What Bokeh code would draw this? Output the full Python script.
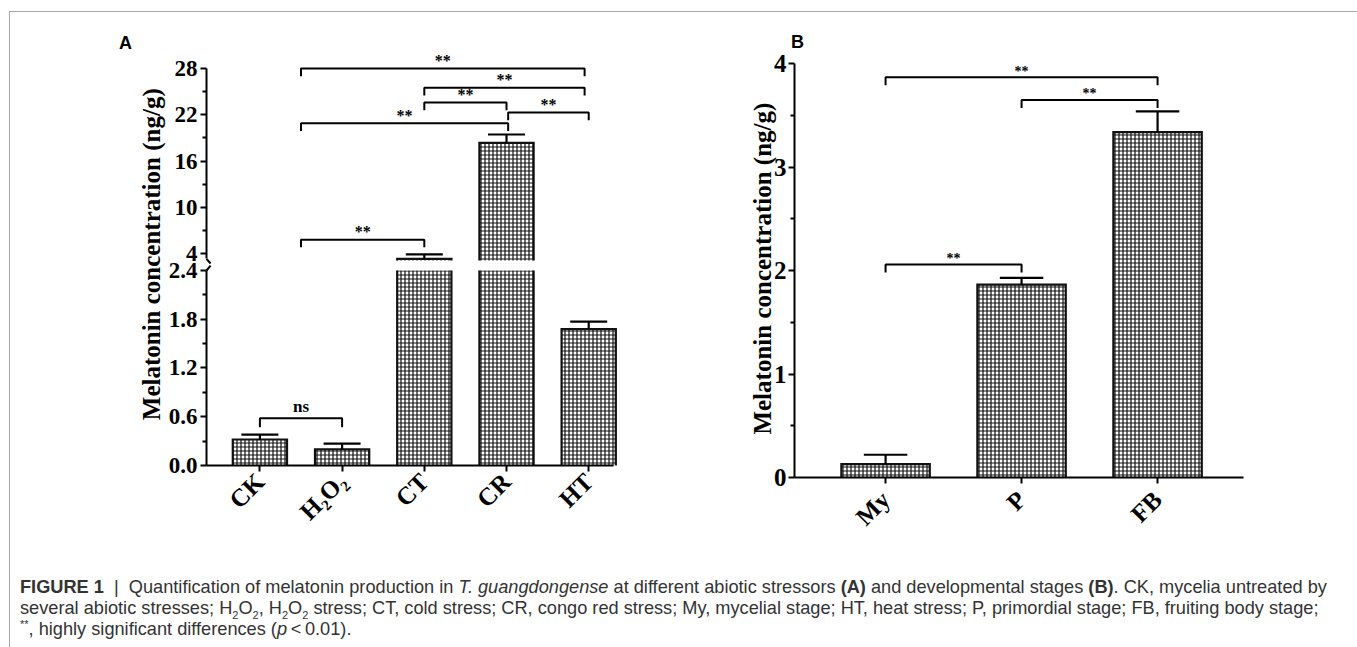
import math
from bokeh.plotting import figure
from bokeh.models import Range1d, FixedTicker, PrintfTickFormatter, Div, LinearAxis
from bokeh.layouts import row, column
from bokeh.embed import file_html
from bokeh.resources import INLINE
from bokeh.core.properties import value

# ---------------- data ----------------
# Panel A: abiotic stressors
cats_a = ["CK", "H\u2082O\u2082", "CT", "CR", "HT"]
mean_a = [0.32, 0.20, 3.30, 18.36, 1.68]
err_a = [0.06, 0.07, 0.58, 1.08, 0.09]
ticks_a_upper = [4, 10, 16, 22, 28]
ticks_a_lower = [0.0, 0.6, 1.2, 1.8, 2.4]
break_a = (2.4, 3.1)          # y axis break: lower segment ends / upper segment starts

# significance brackets of panel A (x in category index, y in ng/g)
brA_x0 = [0.5, 2.0, 2.0, 3.02, 0.5, 0.5]
brA_x1 = [3.95, 3.95, 3.0, 4.0, 3.02, 2.0]
brA_y = [28.0, 25.5, 23.6, 22.3, 20.9, 5.8]
brA_lab = ["**", "**", "**", "**", "**", "**"]
nsA_x0 = [0.0]
nsA_x1 = [1.0]
nsA_y = [0.58]
nsA_lab = ["ns"]

# Panel B: developmental stages
cats_b = ["My", "P", "FB"]
mean_b = [0.13, 1.865, 3.34]
err_b = [0.09, 0.065, 0.20]
ticks_b = [0, 1, 2, 3, 4]
brB_x0 = [0.0, 1.0, 0.0]
brB_x1 = [2.0, 2.0, 1.0]
brB_y = [3.87, 3.65, 2.06]
brB_lab = ["**", "**", "**"]

Y_TITLE = "Melatonin concentration (ng/g)"
SERIF = "Liberation Serif"
SANS = "Liberation Sans"
INK = "#111111"


def minor_of(t):
    return [(a + b) / 2 for a, b in zip(t[:-1], t[1:])]


def base_fig(w, h, xr, yr):
    p = figure(width=w, height=h, x_range=xr, y_range=yr,
               output_backend="svg", toolbar_location=None, min_border=0)
    p.grid.visible = False
    p.outline_line_color = None
    p.background_fill_color = "white"
    p.border_fill_color = "white"
    return p


def style_axis(ax, size, standoff=3):
    ax.axis_line_width = 2
    ax.axis_line_color = "black"
    ax.major_tick_line_width = 2
    ax.minor_tick_line_width = 2
    ax.major_tick_line_color = "black"
    ax.minor_tick_line_color = "black"
    ax.major_tick_in = 0
    ax.major_tick_out = 6
    ax.minor_tick_in = 0
    ax.minor_tick_out = 4
    ax.major_label_text_font = SERIF
    ax.major_label_text_font_style = "bold"
    ax.major_label_text_font_size = size
    ax.major_label_text_color = "black"
    ax.major_label_standoff = standoff


HATCH = dict(fill_color="#ffffff", line_color=None, hatch_pattern="cross",
             hatch_color=INK, hatch_scale=4, hatch_weight=1.2)


def bar_fill(p, xs, bottoms, tops, w, rng="default"):
    p.vbar(x=xs, bottom=bottoms, top=tops, width=w, y_range_name=rng, **HATCH)


def bar_outline(p, xs, bottoms, tops, w, open_top, rng="default"):
    mx, my = [], []
    for x, b, t, o in zip(xs, bottoms, tops, open_top):
        l, r = x - w / 2, x + w / 2
        if o:
            mx += [[l, l], [r, r]]
            my += [[b, t], [b, t]]
        else:
            mx.append([l, l, r, r])
            my.append([b, t, t, b])
    p.multi_line(xs=mx, ys=my, line_color=INK, line_width=2.2, line_join="miter", y_range_name=rng)


def err_bars(p, xs, means, errs, cap_w, rng="default"):
    if not xs:
        return
    tops = [m + e for m, e in zip(means, errs)]
    p.segment(x0=xs, y0=means, x1=xs, y1=tops, line_color="black", line_width=2.2, y_range_name=rng)
    p.segment(x0=[x - cap_w / 2 for x in xs], y0=tops, x1=[x + cap_w / 2 for x in xs], y1=tops,
              line_color="black", line_width=2.2, y_range_name=rng)


def brackets(p, x0, x1, ys, labs, drop, off, size, rng="default"):
    xs = [[a, a, b, b] for a, b in zip(x0, x1)]
    yy = [[y - drop, y, y, y - drop] for y in ys]
    p.multi_line(xs=xs, ys=yy, line_color="black", line_width=2, y_range_name=rng)
    p.text(x=[(a + b) / 2 for a, b in zip(x0, x1)], y=[y + off for y in ys], text=labs,
           text_font=value(SERIF), text_font_style="bold", text_font_size=size,
           text_align="center", text_baseline="alphabetic", text_color="black", y_range_name=rng)


def label(p, x, y, txt, font, size, angle=0.0):
    p.text(x=[x], y=[y], text=[txt], angle=angle, text_font=value(font), text_font_style="bold",
           text_font_size=size, text_align="center", text_baseline="middle", text_color="black")


# ---------------- panel A (broken y axis: two y ranges in one frame) ----------------
xa = list(range(len(cats_a)))
AX_X = -0.65                       # where the y axes stand (left end of the x axis)
AX_XR = 4.3                        # right end of the x axis
pa = base_fig(630, 553, Range1d(-3.034, 4.63), Range1d(-1.2308, 5.5754))
pa.extra_y_ranges = {"upper": Range1d(-36.48, 35.27)}

ax_lo = pa.yaxis[0]
style_axis(ax_lo, "23px")
ax_lo.fixed_location = AX_X
ax_lo.ticker = FixedTicker(ticks=ticks_a_lower, minor_ticks=minor_of(ticks_a_lower))
ax_lo.formatter = PrintfTickFormatter(format="%.1f")
ax_lo.bounds = (0, break_a[0])

ax_up = LinearAxis(y_range_name="upper", fixed_location=AX_X,
                   ticker=FixedTicker(ticks=ticks_a_upper, minor_ticks=minor_of(ticks_a_upper)),
                   bounds=(3.3, ticks_a_upper[-1]))
style_axis(ax_up, "23px")
pa.add_layout(ax_up, "left")

axx = pa.xaxis[0]
style_axis(axx, "25px", standoff=6)
axx.fixed_location = 0
axx.bounds = (AX_X, AX_XR)
axx.ticker = FixedTicker(ticks=xa)
axx.major_label_overrides = {i: c for i, c in enumerate(cats_a)}
axx.minor_tick_line_color = None
axx.major_label_orientation = math.pi / 4

# axis break marks
pa.segment(x0=[AX_X], y0=[3.3], x1=[AX_X + 0.05], y1=[3.3 - 0.6], line_color="black",
           line_width=2, y_range_name="upper")
pa.segment(x0=[AX_X + 0.05], y0=[break_a[0] + 0.06], x1=[AX_X], y1=[break_a[0]],
           line_color="black", line_width=2)

BW_A = 0.66
lo_top = [min(v, break_a[0]) for v in mean_a]
bar_fill(pa, xa, [0] * len(xa), lo_top, BW_A)
bar_outline(pa, xa, [0] * len(xa), lo_top, BW_A, [v > break_a[0] for v in mean_a])
up_idx = [i for i, v in enumerate(mean_a) if v > break_a[1]]
up_x = [xa[i] for i in up_idx]
up_v = [mean_a[i] for i in up_idx]
bar_fill(pa, up_x, [break_a[1]] * len(up_x), up_v, BW_A, "upper")
bar_outline(pa, up_x, [break_a[1]] * len(up_x), up_v, BW_A, [False] * len(up_x), "upper")

lo_idx = [i for i, v in enumerate(mean_a) if v <= break_a[1]]
err_bars(pa, [xa[i] for i in lo_idx], [mean_a[i] for i in lo_idx], [err_a[i] for i in lo_idx], 0.45)
err_bars(pa, up_x, up_v, [err_a[i] for i in up_idx], 0.45, "upper")

brackets(pa, brA_x0, brA_x1, brA_y, brA_lab, 1.0, 1.05, "16px", "upper")
brackets(pa, nsA_x0, nsA_x1, nsA_y, nsA_lab, 0.11, 0.14, "17px")

label(pa, AX_X - 55 / 82.2, 2.6, Y_TITLE, SERIF, "25px", math.pi / 2)
label(pa, AX_X - 81 / 82.2, 5.206, "A", SANS, "18px")

# ---------------- panel B ----------------
xb = list(range(len(cats_b)))
BX_X = -0.67
BX_XR = 2.63
pb = base_fig(714, 553, Range1d(-1.802, 3.448), Range1d(-0.851, 4.497))
style_axis(pb.yaxis[0], "25px", standoff=2)
pb.yaxis.fixed_location = BX_X
pb.yaxis.ticker = FixedTicker(ticks=ticks_b, minor_ticks=minor_of(ticks_b))
pb.yaxis.bounds = (0, ticks_b[-1])
style_axis(pb.xaxis[0], "25px", standoff=12)
pb.xaxis.fixed_location = 0
pb.xaxis.bounds = (BX_X, BX_XR)
pb.xaxis.ticker = FixedTicker(ticks=xb)
pb.xaxis.major_label_overrides = {i: c for i, c in enumerate(cats_b)}
pb.xaxis.minor_tick_line_color = None
pb.xaxis.major_label_orientation = math.pi / 4

BW_B = 0.65
bar_fill(pb, xb, [0] * len(xb), mean_b, BW_B)
bar_outline(pb, xb, [0] * len(xb), mean_b, BW_B, [False] * len(xb))
err_bars(pb, xb, mean_b, err_b, 0.32)
brackets(pb, brB_x0, brB_x1, brB_y, brB_lab, 0.077, 0.06, "14px")

label(pb, BX_X - 32 / 136, 2.02, Y_TITLE, SERIF, "25px", math.pi / 2)
label(pb, BX_X + 3 / 136, 4.207, "B", SANS, "18px")

# ---------------- caption ----------------
SUB = '<sub style="font-size:11px;line-height:0">2</sub>'
cap_html = (
    '<div style="padding:7px 0 0 5px; font-family:\'Liberation Sans Narrow\',\'Liberation Sans\',sans-serif;'
    ' font-size:18.2px; line-height:21px; color:#333; white-space:nowrap;">'
    '<b>FIGURE 1</b> &nbsp;|&nbsp; Quantification of melatonin production in <i>T. guangdongense</i> '
    'at different abiotic stressors <b>(A)</b> and developmental stages <b>(B)</b>. CK, mycelia untreated by<br>'
    'several abiotic stresses; H' + SUB + 'O' + SUB + ', H' + SUB + 'O' + SUB + ' stress; '
    'CT, cold stress; CR, congo red stress; My, mycelial stage; HT, heat stress; P, primordial stage; FB, fruiting body stage;<br>'
    '<sup style="font-size:11px;line-height:0">**</sup>, highly significant differences (<i>p</i>&thinsp;&lt;&thinsp;0.01).'
    '</div>'
)
cap = Div(text=cap_html, width=1344, height=90)

top = row(column(pa), column(pb))
layout = column(top, cap, margin=(11, 0, 0, 9), styles={"border": "1px solid #a8a8a8"})

open("out.html", "w").write(file_html(layout, INLINE))
